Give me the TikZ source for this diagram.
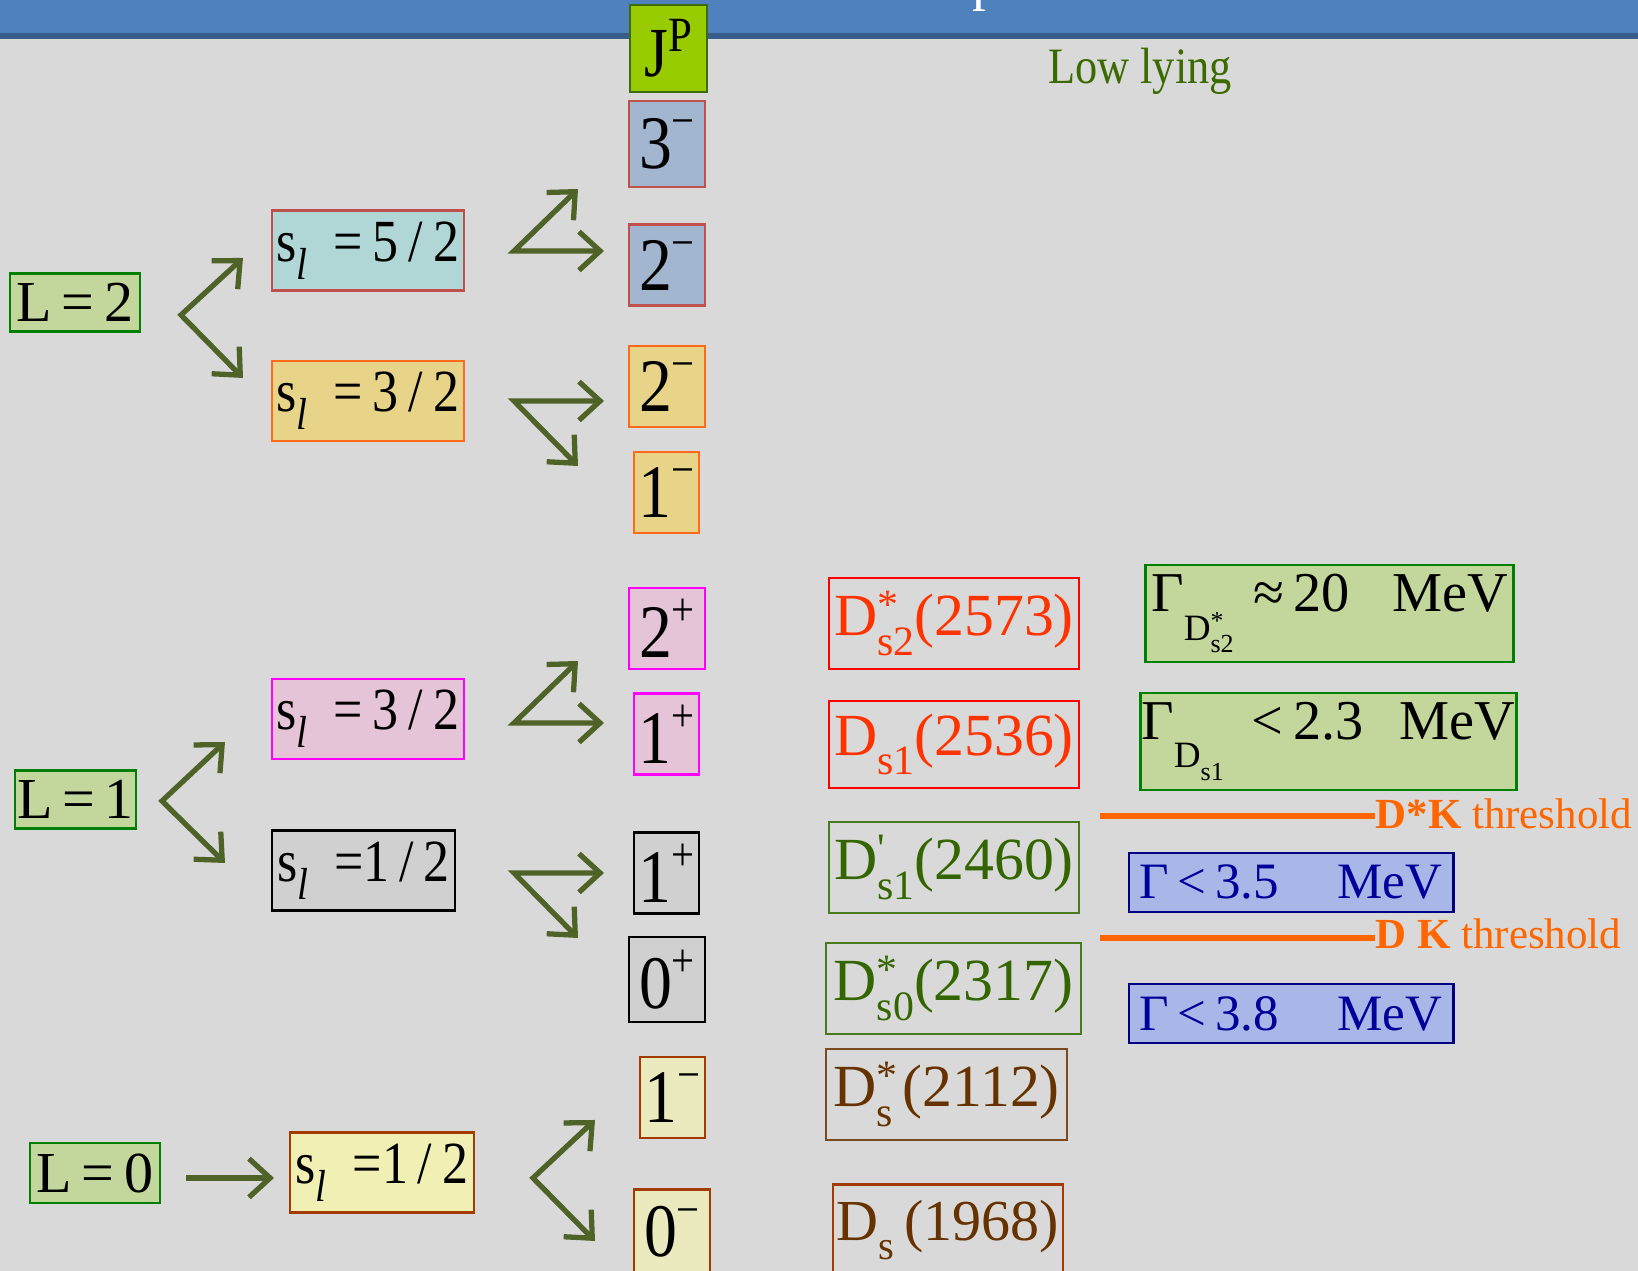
\documentclass[tikz,border=0pt]{standalone}
\usepackage{fontspec}
\setmainfont{Liberation Serif}
\newfontfamily\eqfont{Liberation Serif}[FakeStretch=0.87]
\usepackage{graphicx}
\usetikzlibrary{arrows.meta,positioning}
\definecolor{slidebg}{HTML}{D9D9D9}
\definecolor{barblue}{HTML}{4F81BD}
\definecolor{barline}{HTML}{385D8A}
\definecolor{olive}{HTML}{4F6228}
\definecolor{jpfill}{HTML}{99CC00}
\definecolor{jpline}{HTML}{3D6B10}
\definecolor{lfill}{HTML}{C3D69B}
\definecolor{lline}{HTML}{008000}
\definecolor{redline}{HTML}{C0504D}
\definecolor{tealfill}{HTML}{B0D7D6}
\definecolor{slatefill}{HTML}{A2B6D0}
\definecolor{sandfill}{HTML}{E8D489}
\definecolor{orangeline}{HTML}{FF6A1A}
\definecolor{pinkfill}{HTML}{E6C4D8}
\definecolor{magline}{HTML}{FF00FF}
\definecolor{grayfill}{HTML}{D0D0D0}
\definecolor{paleyellow}{HTML}{F0F0B4}
\definecolor{paleyellowb}{HTML}{EAEABE}
\definecolor{brownline}{HTML}{A33A00}
\definecolor{dred}{HTML}{FF3300}
\definecolor{dredline}{HTML}{FF0000}
\definecolor{dgreen}{HTML}{336600}
\definecolor{dgreenline}{HTML}{4A7A1E}
\definecolor{dbrown}{HTML}{663300}
\definecolor{dbrownline}{HTML}{7B4A1E}
\definecolor{periwinkle}{HTML}{A8B7E7}
\definecolor{navyline}{HTML}{000080}
\definecolor{navytext}{HTML}{00009A}
\definecolor{thresh}{HTML}{FF6600}
\definecolor{lowgreen}{HTML}{3B6B00}
\newcommand\fsz[1]{\fontsize{#1}{#1}\selectfont}
\newcommand\supx[1]{\raisebox{0.42em}{\scalebox{0.62}{#1}}}
\newcommand\subx[1]{\raisebox{-0.33em}{\scalebox{0.7}{#1}}}
\newcommand\Dmeson[2]{D\makebox[0pt][l]{\raisebox{0.28em}{\scalebox{0.7}{#1}}}\subx{#2}}
\newcommand\spinl{s\raisebox{-0.3em}{\scalebox{0.75}{\textit{l}}}}
\tikzset{
  base_box/.style={draw,line width=0.8pt,inner sep=0pt,align=center},
  lbox/.style={base_box,draw=lline,fill=lfill,minimum height=0.58cm,font=\fsz{16.5pt}},
  sbox/.style={base_box,minimum width=1.92cm,minimum height=0.8cm,font=\eqfont\fsz{17pt}},
  jbox/.style={base_box,minimum height=0.81cm,font=\eqfont\fsz{21.5pt}},
  dbox/.style={base_box,fill=none,minimum height=0.91cm,font=\fsz{17pt}},
  gbox/.style={base_box,draw=lline,fill=lfill,minimum height=0.97cm,font=\fsz{16pt}},
  bbox/.style={base_box,draw=navyline,fill=periwinkle,text=navytext,
    minimum width=3.24cm,minimum height=0.59cm,font=\fsz{14.5pt}},
  fork/.style={draw=olive,line width=1.5pt,
    {Straight Barb[length=6pt,width=11pt]}-{Straight Barb[length=6pt,width=11pt]}},
  oneway/.style={draw=olive,line width=1.5pt,-{Straight Barb[length=6pt,width=11pt]}},
  thline/.style={draw=thresh,line width=1.6pt},
  threshlabel/.style={text=thresh,anchor=west,inner sep=0pt,font=\fsz{12.2pt}},
}
\begin{document}
\begin{tikzpicture}[x=0.01cm,y=-0.01cm]
  \useasboundingbox (0,0) rectangle (1638,1271);
  \fill[slidebg] (0,0) rectangle (1638,1271);
  \fill[barblue] (0,0) rectangle (1638,33);
  \fill[barline] (0,33) rectangle (1638,39);
  \node[text=white,font=\fsz{16pt},anchor=base,inner sep=0pt] (title) at (987,0) {p};

  % J^P column
  \node[jbox,draw=jpline,fill=jpfill,minimum width=0.77cm,minimum height=0.87cm,font=\eqfont\fsz{20pt}] (jp) at (668.5,48.5) {J\raisebox{0.36em}{\scalebox{0.7}{P}}};
  \node[jbox,draw=redline,fill=slatefill,minimum width=0.76cm,minimum height=0.86cm] (jthree) at (667,144) {3\supx{−}};
  \node[jbox,draw=redline,fill=slatefill,minimum width=0.76cm] (jtwoA) at (667,265) {2\supx{−}};
  \node[jbox,draw=orangeline,fill=sandfill,minimum width=0.76cm] (jtwoB) at (667,386.5) {2\supx{−}};
  \node[jbox,draw=orangeline,fill=sandfill,minimum width=0.65cm] (joneA) at (666.5,492.5) {1\supx{−}};
  \node[jbox,draw=magline,fill=pinkfill,minimum width=0.76cm] (jtwoP) at (667,628.5) {2\supx{+}};
  \node[jbox,draw=magline,fill=pinkfill,minimum width=0.65cm] (jonePA) at (666.5,734) {1\supx{+}};
  \node[jbox,draw=black,fill=grayfill,minimum width=0.65cm] (jonePB) at (666.5,873) {1\supx{+}};
  \node[jbox,draw=black,fill=grayfill,minimum width=0.76cm,minimum height=0.85cm] (jzeroP) at (667,979.5) {0\supx{+}};
  \node[jbox,draw=brownline,fill=paleyellowb,minimum width=0.65cm] (joneM) at (672.5,1097.5) {1\supx{−}};
  \node[jbox,draw=brownline,fill=paleyellowb,minimum width=0.76cm,minimum height=0.85cm] (jzeroM) at (672,1232) {0\supx{−}};

  % orbital and light spin
  \node[lbox,minimum width=1.30cm] (ltwo) at (75,302.5) {L\,=\,2};
  \node[lbox,minimum width=1.21cm] (lone) at (75.5,799.5) {L\,=\,1};
  \node[lbox,minimum width=1.30cm,minimum height=0.60cm] (lzero) at (95,1173) {L\,=\,0};
  \node[sbox,draw=redline,fill=tealfill] (sfive) at (368,250.5) {\spinl\ \ =\,5\,/\,2};
  \node[sbox,draw=orangeline,fill=sandfill] (sthreeA) at (368,401) {\spinl\ \ =\,3\,/\,2};
  \node[sbox,draw=magline,fill=pinkfill] (sthreeB) at (368,719) {\spinl\ \ =\,3\,/\,2};
  \node[sbox,draw=black,fill=grayfill,minimum width=1.83cm] (shalfA) at (363.5,870.5) {\spinl\ \ =1\,/\,2};
  \node[sbox,draw=brownline,fill=paleyellow,minimum width=1.84cm] (shalfB) at (382,1172.5) {\spinl\ \ =1\,/\,2};

  % observed states
  \node[dbox,draw=dredline,text=dred,minimum width=2.50cm] (dstwo) at (954,623.5) {\Dmeson{*}{s2}(2573)};
  \node[dbox,draw=dredline,text=dred,minimum width=2.50cm,minimum height=0.87cm] (dsone) at (954,744.5) {D\subx{s1}(2536)};
  \node[dbox,draw=dgreenline,text=dgreen,minimum width=2.50cm] (dsonep) at (954,867.5) {\Dmeson{\textquotesingle}{s1}(2460)};
  \node[dbox,draw=dgreenline,text=dgreen,minimum width=2.55cm] (dszero) at (953.5,988.5) {\Dmeson{*}{s0}(2317)};
  \node[dbox,draw=dbrownline,text=dbrown,minimum width=2.41cm] (dsstar) at (946.5,1094.5) {\Dmeson{*}{s}\,(2112)};
  \node[dbox,draw=brownline,text=dbrown,minimum width=2.30cm,font=\fsz{16.5pt}] (dsground) at (948,1230) {D\subx{s}\,(1968)};

  % widths
  \node[gbox,minimum width=3.67cm] (gtwo) at (1329.5,613.5) {Γ\raisebox{-0.5em}{\scalebox{0.66}{\Dmeson{*}{s2}}}\hspace{0.35em}≈\,20\hspace{0.75em}MeV};
  \node[gbox,minimum width=3.75cm] (gone) at (1328.5,741.5) {Γ\raisebox{-0.5em}{\scalebox{0.66}{D\subx{s1}}}\hspace{0.5em}<\,2.3\hspace{0.65em}MeV};
  \node[bbox] (gwideA) at (1291,882.5) {Γ\,<\,3.5\hspace{1.15em}MeV};
  \node[bbox] (gwideB) at (1291,1013.5) {Γ\,<\,3.8\hspace{1.15em}MeV};

  \node[text=lowgreen,font=\eqfont\fsz{14.5pt}] (lowlying) at (1140,71) {Low lying};

  % thresholds
  \node[threshlabel] (dkstar) at (1375,814) {\textbf{D*K} threshold};
  \node[threshlabel] (dk) at (1375,934) {\textbf{D K} threshold};
  \coordinate (dkstarL) at (1100,816);
  \coordinate (dkL) at (1100,938);
  \draw[thline] (dkstarL) -- (dkstarL -| dkstar.west);
  \draw[thline] (dkL) -- (dkL -| dk.west);

  % arrows
  \coordinate (ltwoV) at (181,315); \coordinate (ltwoU) at (243,258); \coordinate (ltwoD) at (243,378);
  \draw[fork] (ltwoU) -- (ltwoV) -- (ltwoD);
  \coordinate (sfiveV) at (514,251); \coordinate (sfiveU) at (578,189); \coordinate (sfiveR) at (604,251);
  \draw[fork] (sfiveU) -- (sfiveV) -- (sfiveR);
  \coordinate (sthreeAV) at (514,401); \coordinate (sthreeAR) at (604,401); \coordinate (sthreeAD) at (578,466);
  \draw[fork] (sthreeAR) -- (sthreeAV) -- (sthreeAD);
  \coordinate (loneV) at (162,801); \coordinate (loneU) at (225,742); \coordinate (loneD) at (225,863);
  \draw[fork] (loneU) -- (loneV) -- (loneD);
  \coordinate (sthreeBV) at (514,723); \coordinate (sthreeBU) at (578,661); \coordinate (sthreeBR) at (604,723);
  \draw[fork] (sthreeBU) -- (sthreeBV) -- (sthreeBR);
  \coordinate (shalfAV) at (514,873); \coordinate (shalfAR) at (604,873); \coordinate (shalfAD) at (578,938);
  \draw[fork] (shalfAR) -- (shalfAV) -- (shalfAD);
  \coordinate (lzeroA) at (186,1178); \coordinate (lzeroB) at (274,1178);
  \draw[oneway] (lzeroA) -- (lzeroB);
  \coordinate (shalfBV) at (533,1178); \coordinate (shalfBU) at (595,1120); \coordinate (shalfBD) at (595,1241);
  \draw[fork] (shalfBU) -- (shalfBV) -- (shalfBD);
\end{tikzpicture}
\end{document}
